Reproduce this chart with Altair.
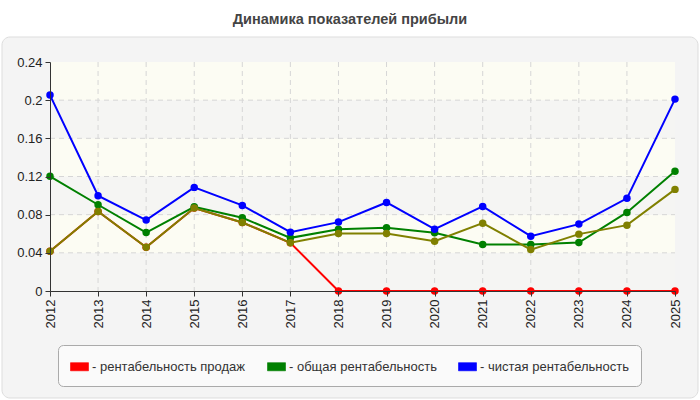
import altair as alt
import pandas as pd

# Years on the category axis
years = [str(y) for y in range(2012, 2026)]

# Profitability indicators by year
sales_margin = [0.0417, 0.0834, 0.0459, 0.0869, 0.0718, 0.0505, 0.0, 0.0, 0.0, 0.0, 0.0, 0.0, 0.0, 0.0]
total_margin = [0.1202, 0.0904, 0.0613, 0.0883, 0.0767, 0.0557, 0.0648, 0.0662, 0.0610, 0.0487, 0.0487, 0.0508, 0.0823, 0.1254]
net_margin = [0.2053, 0.0999, 0.0743, 0.1086, 0.0897, 0.0617, 0.0722, 0.0928, 0.0648, 0.0886, 0.0575, 0.0701, 0.0971, 0.2011]
product_margin = [0.0417, 0.0834, 0.0459, 0.0869, 0.0718, 0.0505, 0.0603, 0.0603, 0.0522, 0.0711, 0.0434, 0.0596, 0.0690, 0.1065]

series_names = ["рентабельность продаж", "общая рентабельность", "чистая рентабельность", "рентабельность продукции"]
series_colors = ["#ff0000", "#008000", "#0000ff", "#808000"]
legend_names = series_names[:3]

y_ticks = [0, 0.04, 0.08, 0.12, 0.16, 0.2, 0.24]
band_shades = ["#f5f5f3", "#fcfcf3", "#f5f5f3", "#fcfcf3", "#f5f5f3", "#fcfcf3"]

rows = []
for name, vals in zip(series_names, [sales_margin, total_margin, net_margin, product_margin]):
    for yr, v in zip(years, vals):
        rows.append({"year": yr, "series": name, "value": v})
df = pd.DataFrame(rows)

bands = pd.DataFrame({"lo": y_ticks[:-1], "hi": y_ticks[1:], "shade": band_shades})
h_grid = pd.DataFrame({"value": y_ticks[1:-1]})
v_grid = pd.DataFrame({"year": years[1:-1]})

W, H = 625, 229

x_scale = alt.Scale(type="point", padding=0, domain=years)
y_scale = alt.Scale(domain=[0, 0.24], nice=False)
x_axis = alt.Axis(title=None, labelAngle=270, grid=False, zindex=1)
y_axis = alt.Axis(title=None, values=y_ticks, format="~g", grid=False, zindex=1)
x_enc = alt.X("year:O", scale=x_scale, axis=x_axis)
y_enc = alt.Y("value:Q", scale=y_scale, axis=y_axis)
color_enc = alt.Color("series:N", scale=alt.Scale(domain=series_names, range=series_colors),
                      legend=alt.Legend(
                          values=legend_names, title=None, orient="none",
                          legendX=8, legendY=283, direction="horizontal",
                          fillColor="#fafafa", strokeColor="#aaaaaa", cornerRadius=5,
                          padding=12, columnPadding=20, labelOffset=3,
                          symbolType="M-1,-0.45L1,-0.45L1,0.45L-1,0.45Z", symbolSize=324,
                          symbolStrokeColor="#888888", symbolStrokeWidth=0.6,
                          labelFontSize=13, labelColor="#333333", labelFont="Liberation Sans",
                          labelExpr="'- ' + datum.label"))

# Rounded outer panel behind the plot
panel = alt.Chart(pd.DataFrame({"k": [0]})).mark_rect(
    fill="#f4f4f4", stroke="#dddddd", strokeWidth=1, cornerRadius=8, clip=False
).encode(x=alt.value(-48), x2=alt.value(648), y=alt.value(-25), y2=alt.value(336))

band_layer = alt.Chart(bands).mark_rect().encode(
    x=alt.value(0), x2=alt.value(W),
    y=alt.Y("lo:Q", scale=y_scale, axis=y_axis), y2="hi:Q",
    fill=alt.Fill("shade:N", scale=None),
)

grid_style = dict(color="#d6d6d6", strokeDash=[5, 4], strokeWidth=1)
h_grid_layer = alt.Chart(h_grid).mark_rule(**grid_style).encode(
    y=y_enc, x=alt.value(0), x2=alt.value(W))
v_grid_layer = alt.Chart(v_grid).mark_rule(**grid_style).encode(
    x=x_enc, y=alt.value(0), y2=alt.value(H))

title = alt.Chart(pd.DataFrame({"t": ["Динамика показателей прибыли"]})).mark_text(
    fontWeight="bold", fontSize=14.5, color="#444444", font="Liberation Sans", clip=False
).encode(x=alt.value(300), y=alt.value(-42), text="t:N")

layers = [panel, band_layer, h_grid_layer, v_grid_layer]
for name in series_names:
    base = alt.Chart(df).transform_filter(alt.datum.series == name)
    layers.append(base.mark_line(strokeWidth=2).encode(x=x_enc, y=y_enc, color=color_enc))
    layers.append(base.mark_point(filled=True, size=56, opacity=1).encode(x=x_enc, y=y_enc, color=color_enc))
layers.append(title)

chart = alt.layer(*layers).properties(
    width=W, height=H,
    autosize=alt.AutoSizeParams(type="none"),
    padding={"left": 50, "top": 62, "right": 25, "bottom": 109},
).configure(background="white").configure_view(
    stroke="#dddddd", fill=None
).configure_axis(
    labelFont="Liberation Sans", labelFontSize=13, labelColor="#222222",
    domainColor="#333333", tickColor="#333333", tickSize=5,
).configure_axisY(labelPadding=3).configure_axisX(labelPadding=3)

chart.save("out.html", embed_options={"renderer": "svg", "actions": False})
